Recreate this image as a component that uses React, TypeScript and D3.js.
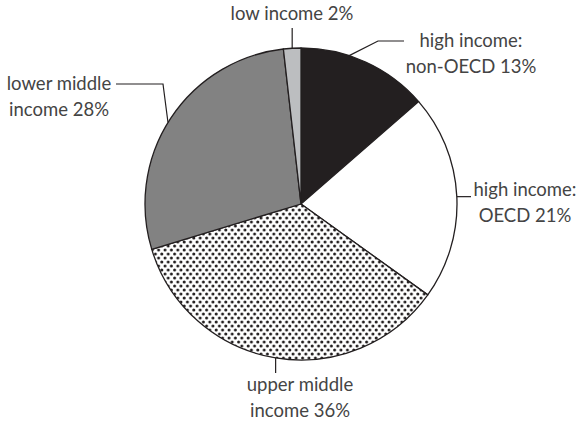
import React from "react";
import * as d3 from "d3";

// slices clockwise from 12 o'clock
const sliceNames = ["high income: non-OECD", "high income: OECD", "upper middle income", "lower middle income", "low income"];
const sliceShares = [13.6, 21.3, 35.4, 27.9, 1.8];
const labelLines = [
  ["high income:", "non-OECD 13%"],
  ["high income:", "OECD 21%"],
  ["upper middle", "income 36%"],
  ["lower middle", "income 28%"],
  ["low income 2%"],
];
const sliceFills = ["#231f20", "#ffffff", "url(#dots)", "#828282", "#bcbec0"];

const W = 587;
const H = 426;
const cx = 301;
const cy = 204;
const r = 156;

const App = () => {
  const data = sliceNames.map((name, i) => ({ name, value: sliceShares[i], fill: sliceFills[i], lines: labelLines[i] }));
  const pie = d3.pie<any>().sort(null).value((d) => d.value);
  const arcs = pie(data);
  const arc = d3.arc<any>().innerRadius(0).outerRadius(r);

  // point on the rim at a given fraction of the way round
  const rim = (frac: number, rr = r) => {
    const a = frac * 2 * Math.PI;
    return [cx + rr * Math.sin(a), cy - rr * Math.cos(a)];
  };
  const total = d3.sum(sliceShares);
  const cum = d3.cumsum(sliceShares).map((v) => v / total);
  const mid = sliceShares.map((v, i) => (cum[i] - v / total / 2));

  const line = d3.line();
  const p0 = rim(0.05);
  const p1 = rim(mid[1]);
  const p2 = rim(mid[2]);
  const p3 = rim(0.8375);
  const p4 = rim(mid[4]);

  const leaders = [
    [p0, [378, 41], [404, 41]],
    [p1, [471, p1[1]]],
    [p2, [p2[0], 373]],
    [p3, [163, 84], [116, 84]],
    [p4, [p4[0], 28]],
  ];

  const labelPos = [
    { x: 471, y: 47 },
    { x: 525, y: 196 },
    { x: 300, y: 391 },
    { x: 59, y: 90 },
    { x: 292, y: 20 },
  ];

  return (
    <svg width={W} height={H} style={{ position: "absolute", left: 0, top: 0 }}>
      <defs>
        <pattern id="dots" width={6.4} height={8} patternUnits="userSpaceOnUse">
          <rect width={6.4} height={8} fill="#fff" />
          <circle cx={1.6} cy={2} r={1.5} fill="#231f20" />
          <circle cx={4.8} cy={6} r={1.5} fill="#231f20" />
        </pattern>
      </defs>
      <rect width={W} height={H} fill="#fff" />
      <g transform={`translate(${cx},${cy})`}>
        {arcs.map((a, i) => (
          <path key={i} d={arc(a) || ""} fill={a.data.fill} stroke="#231f20" strokeWidth={1.3} strokeLinejoin="round" />
        ))}
      </g>
      {leaders.map((pts, i) => (
        <path key={i} d={line(pts as any) || ""} fill="none" stroke="#231f20" strokeWidth={1.2} />
      ))}
      {data.map((d, i) => (
        <text key={i} x={labelPos[i].x} y={labelPos[i].y} textAnchor="middle" fontFamily="Lato, 'Open Sans', sans-serif" fontSize={18.5} fill="#444">
          {d.lines.map((t, j) => (
            <tspan key={j} x={labelPos[i].x} dy={j === 0 ? 0 : 26}>{t}</tspan>
          ))}
        </text>
      ))}
    </svg>
  );
};

export default App;
